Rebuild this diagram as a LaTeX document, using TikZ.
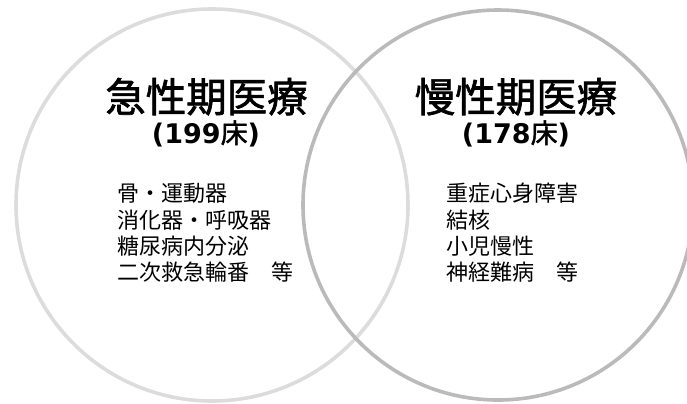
\documentclass[tikz,border=0pt]{standalone}
\usepackage{fontspec}
\newfontfamily\jp{Noto Sans CJK JP}
\newfontfamily\jpm{Noto Sans CJK JP}[FakeBold=1.6]
\newfontfamily\dv{DejaVu Sans}
\definecolor{lightring}{HTML}{DCDCDC}
\definecolor{darkring}{HTML}{BABABA}
\begin{document}
\begin{tikzpicture}[x=1bp,y=-1bp,
  ring/.style={line width=3.6bp},
  titletext/.style={inner sep=0pt,anchor=base,font=\jpm\fontsize{40.5bp}{40bp}\selectfont},
  bedtext/.style={inner sep=0pt,anchor=base,font=\dv\bfseries\fontsize{27bp}{27bp}\selectfont},
  itemtext/.style={inner sep=0pt,anchor=base west,font=\jp\fontsize{22bp}{22bp}\selectfont}]
\useasboundingbox (0,0) rectangle (687,403);
\begin{scope}
\clip (0,0) rectangle (687,403);
\draw[ring,draw=lightring] (212,205) circle[radius=196bp];
\draw[ring,draw=darkring] (498,205) circle[radius=195bp];
\end{scope}
% left
\node[titletext] (t1) at (206.5,112) {急性期医療};
\node[bedtext] (b1) at (206,143) {(199{\jpm\mdseries 床})};
\node[itemtext] (l1) at (117,201) {骨・運動器};
\node[itemtext] (l2) at (117,228) {消化器・呼吸器};
\node[itemtext] (l3) at (117,254) {糖尿病内分泌};
\node[itemtext] (l4) at (117,280) {二次救急輪番　等};
% right
\node[titletext] (t2) at (516,112) {慢性期医療};
\node[bedtext] (b2) at (516,143) {(178{\jpm\mdseries 床})};
\node[itemtext] (r1) at (446,201) {重症心身障害};
\node[itemtext] (r2) at (446,228) {結核};
\node[itemtext] (r3) at (446,254) {小児慢性};
\node[itemtext] (r4) at (446,280) {神経難病　等};
\end{tikzpicture}
\end{document}
